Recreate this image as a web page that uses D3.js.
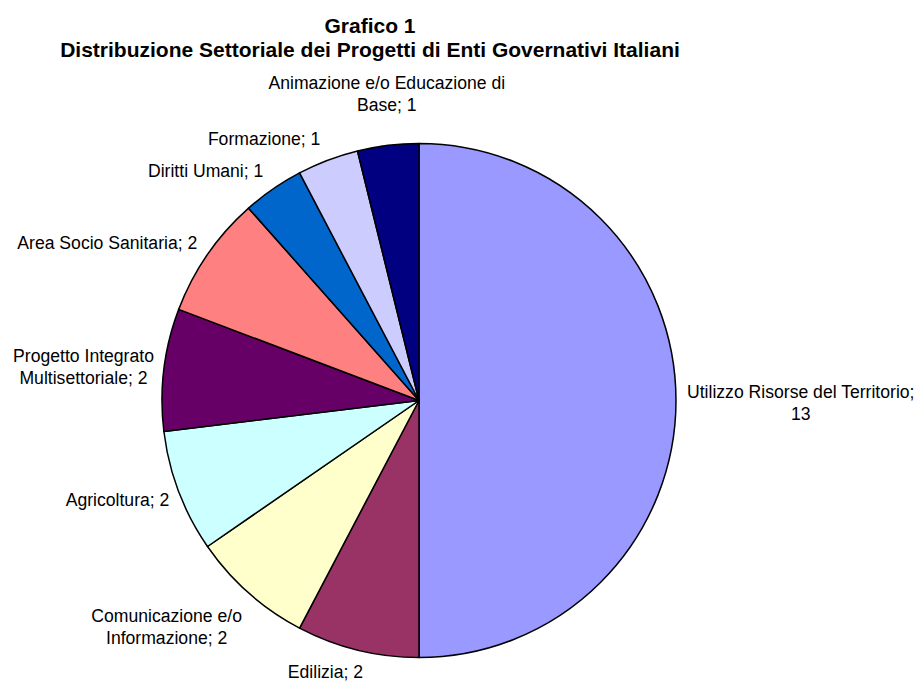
<!DOCTYPE html>
<html>
<head>
<meta charset="utf-8">
<script src="https://cdn.jsdelivr.net/npm/d3@7"></script>
<style>
    body { margin: 0; background: #fff; }
    text { font-family: Arial, "Liberation Sans", sans-serif; fill: #000; }
</style>
</head>
<body>
<div class="chart"></div>
<script>
const titleLines = ["Grafico 1", "Distribuzione Settoriale dei Progetti di Enti Governativi Italiani"];

const sectors = ["Utilizzo Risorse del Territorio", "Edilizia", "Comunicazione e/o Informazione",
                 "Agricoltura", "Progetto Integrato Multisettoriale", "Area Socio Sanitaria",
                 "Diritti Umani", "Formazione", "Animazione e/o Educazione di Base"];
const projects = [13, 2, 2, 2, 2, 2, 1, 1, 1];
const colors = ["#9999FF", "#993366", "#FFFFCC", "#CCFFFF", "#660066", "#FF8080", "#0066CC", "#CCCCFF", "#000080"];

// hand nudges for labels Excel pushed around (px)
const labelNudge = [[1, 2], [8, 1], [0, 10], [0, 1], [0, 1], [-2, 0], [-4, -1], [-4, -2], [0, -20]];

const width = 921, height = 681,
      cx = 419, cy = 400.5, radius = 257,
      gap = 10, lineH = 22, wrapWidth = 245,
      titleX = 370;

const svg = d3.select(".chart").append("svg")
    .attr("width", width)
    .attr("height", height);

svg.append("g")
    .attr("class", "title")
    .selectAll("text")
    .data(titleLines)
    .enter().append("text")
    .attr("x", titleX)
    .attr("y", (d, i) => 33 + i * 24)
    .attr("text-anchor", "middle")
    .style("font-size", "21px")
    .style("font-weight", "bold")
    .text(d => d);

const data = sectors.map((s, i) => ({name: s, value: projects[i], color: colors[i], nudge: labelNudge[i]}));

const pie = d3.pie().sort(null).value(d => d.value);
const arc = d3.arc().innerRadius(0).outerRadius(radius);

const g = svg.append("g")
    .attr("transform", "translate(" + cx + "," + cy + ")");

g.append("g")
    .attr("class", "slices")
    .selectAll("path")
    .data(pie(data))
    .enter().append("path")
    .attr("d", arc)
    .attr("fill", d => d.data.color)
    .attr("stroke", "#000")
    .attr("stroke-width", 1.5)
    .attr("stroke-linejoin", "round");

// greedy word wrap, like Excel does on long data labels
const wrap = (label, probe) => {
    const words = label.split(" ");
    const lines = [];
    let cur = "";
    words.forEach(w => {
        const test = cur ? cur + " " + w : w;
        probe.text(test);
        if (cur && probe.node().getComputedTextLength() > wrapWidth) {
            lines.push(cur);
            cur = w;
        } else {
            cur = test;
        }
    });
    lines.push(cur);
    return lines;
};

const labels = g.append("g").attr("class", "labels");
const probe = labels.append("text").style("font-size", "17.6px");

pie(data).forEach(d => {
    const lines = wrap(d.data.name + "; " + d.data.value, probe);
    const t = labels.append("text")
          .style("font-size", "17.6px")
          .attr("text-anchor", "middle");
    lines.forEach(l => t.append("tspan").text(l));
    const w = d3.max(t.selectAll("tspan").nodes(), n => n.getComputedTextLength());
    const h = lines.length * lineH;

    const a = (d.startAngle + d.endAngle) / 2,
          s = Math.sin(a), c = Math.cos(a),
          px = s * (radius + gap),
          py = -c * (radius + gap);

    let bx = px;
    if (s > 0.2) bx = px + w / 2;
    else if (s < -0.2) bx = px - w / 2;
    let by = py - c * h / 2;

    bx += d.data.nudge[0];
    by += d.data.nudge[1];

    t.selectAll("tspan")
        .attr("x", bx)
        .attr("y", (l, i) => by + (i - (lines.length - 1) / 2) * lineH)
        .attr("dy", "0.35em");
});
probe.remove();
</script>
</body>
</html>
